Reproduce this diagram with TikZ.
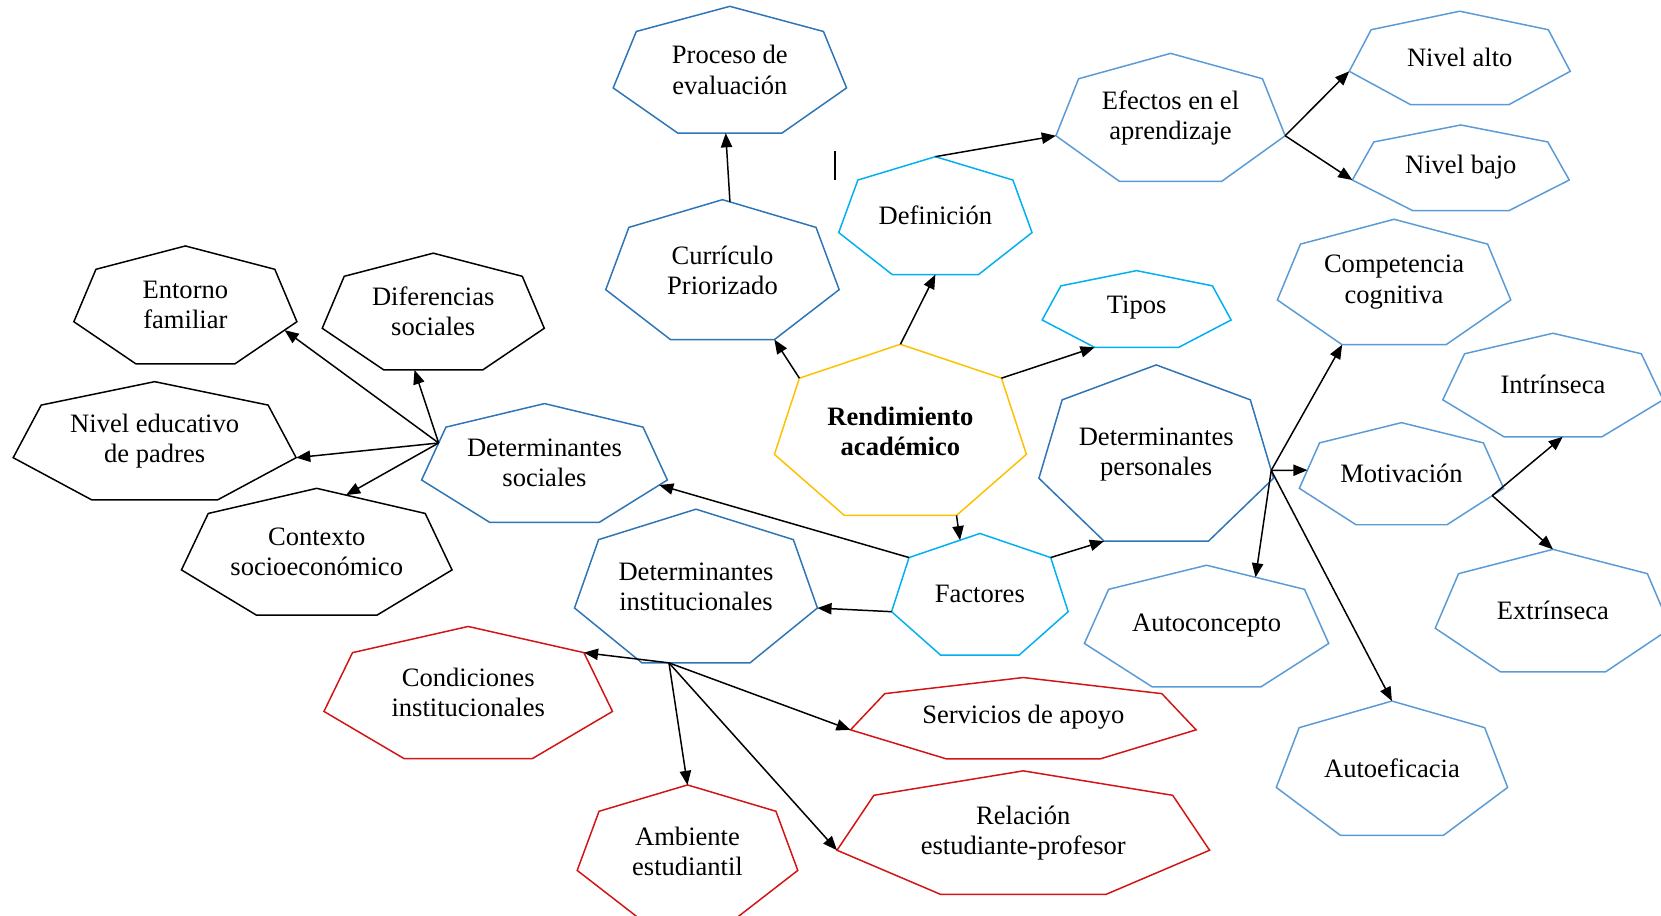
\documentclass[tikz,border=0pt]{standalone}
\usepackage{fontspec}
\setmainfont{Liberation Serif}
\usepackage{tikz}
\usetikzlibrary{arrows.meta, calc}

\definecolor{deepblue}{RGB}{46,117,182}
\definecolor{skyblue}{RGB}{0,176,240}
\definecolor{paleblue}{RGB}{91,155,213}
\definecolor{gold}{RGB}{255,192,0}
\definecolor{redline}{RGB}{210,20,20}

\tikzset{
  lbl/.style={align=center, inner sep=0pt, font=\fontsize{10.7}{12.1}\selectfont},
  arr/.style={-{Triangle[length=0.2cm,width=0.16cm]}, line width=0.6pt},
}

% heptagon: name, centre, x-radius, y-radius, colour, text
\newcommand{\hepta}[6]{%
  \node[lbl] (#1) at ($(#2)+(0,-3)$) {#6};
  \foreach \vx in {1,...,7}
    \coordinate (#1-\vx) at ($(#2)+({#3*cos(90+(\vx-1)*360/7)},{-#4*sin(90+(\vx-1)*360/7)})$);
  \draw[#5, line width=0.6pt] (#1-1) -- (#1-2) -- (#1-3) -- (#1-4) -- (#1-5) -- (#1-6) -- (#1-7) -- cycle;
}

\begin{document}
\begin{tikzpicture}[x=0.015cm, y=-0.015cm]
    \useasboundingbox (0,0) rectangle (1568,864);
    % Centre
    \hepta{rend}{850,410}{122}{85}{gold}{\textbf{Rendimiento}\\\textbf{académico}}
    % Upper branch
    \hepta{proc}{689,69}{113}{63}{deepblue}{Proceso de\\evaluación}
    \hepta{curr}{682,258}{113}{69.5}{deepblue}{Currículo\\Priorizado}
    \hepta{def}{883,206.5}{93.6}{58.6}{skyblue}{Definición}
    \hepta{efec}{1105,114}{111}{63.6}{paleblue}{Efectos en el\\aprendizaje}
    \hepta{nalt}{1378,57}{107}{46.4}{paleblue}{Nivel alto}
    \hepta{nbaj}{1379,160.5}{105}{42.5}{paleblue}{Nivel bajo}
    \hepta{tips}{1073,293.6}{91.5}{38.1}{skyblue}{Tipos}
    % Factors
    \hepta{fac}{925,564}{85.5}{60.4}{skyblue}{Factores}
    \hepta{dper}{1091.5,432}{113.6}{87.5}{deepblue}{Determinantes\\personales}
    \hepta{dsoc}{514,440}{119}{59}{deepblue}{Determinantes\\sociales}
    \hepta{dinst}{657,557}{117.6}{76.3}{deepblue}{Determinantes\\institucionales}
    % Personal
    \hepta{comp}{1316,269.3}{113}{62.3}{paleblue}{Competencia\\cognitiva}
    \hepta{mot}{1323,449.7}{98.9}{50.7}{paleblue}{Motivación}
    \hepta{intr}{1466,366}{106.7}{51.4}{paleblue}{Intrínseca}
    \hepta{extr}{1466,579.5}{114}{60.9}{paleblue}{Extrínseca}
    \hepta{acon}{1139,594}{118.3}{60.4}{paleblue}{Autoconcepto}
    \hepta{aefi}{1314,728.5}{112}{66.7}{paleblue}{Autoeficacia}
    % Social
    \hepta{entf}{175,290.7}{108}{58.5}{black}{Entorno\\familiar}
    \hepta{difs}{409,297}{107.5}{58}{black}{Diferencias\\sociales}
    \hepta{nedu}{146,419}{137}{58.7}{black}{Nivel educativo\\de padres}
    \hepta{ctx}{299,524}{131}{63}{black}{Contexto\\socioeconómico}
    % Institutional
    \hepta{cond}{442,657}{139.7}{65.6}{redline}{Condiciones\\institucionales}
    \hepta{serv}{966,680}{167.3}{40.4}{redline}{Servicios de apoyo}
    \hepta{amb}{649,807}{106.8}{66}{redline}{Ambiente\\estudiantil}
    \hepta{rel}{966,789}{180.4}{61.3}{redline}{Relación\\estudiante-profesor}
    % Cursor mark
    \draw [line width=0.7pt] (788,143) -- (788,170);
    % Arrows from the centre
    \draw [arr] (rend-2) -- (curr-5);
    \draw [arr] (rend-1) -- ($(def-4)!.5!(def-5)$);
    \draw [arr] (rend-7) -- (tips-4);
    \draw [arr] (rend-5) -- ($(fac-1)!.28!(fac-2)$);
    % Upper arrows
    \draw [arr] ($(curr-1)!.08!(curr-7)$) -- ($(proc-4)!.46!(proc-5)$);
    \draw [arr] (def-1) -- (efec-3);
    \draw [arr] (efec-6) -- (nalt-3);
    \draw [arr] (efec-6) -- (nbaj-3);
    % Factor arrows
    \draw [arr] (fac-7) -- (dper-4);
    \draw [arr] (fac-2) -- ($(dsoc-6)!.12!(dsoc-5)$);
    \draw [arr] (fac-3) -- (dinst-6);
    % Social determinants
    \coordinate (dsoc-hub) at ($(dsoc-2)!.3!(dsoc-3)$);
    \draw [arr] (dsoc-hub) -- ($(entf-6)!.2!(entf-5)$);
    \draw [arr] (dsoc-hub) -- ($(difs-4)!.31!(difs-5)$);
    \draw [arr] (dsoc-hub) -- (nedu-6);
    \draw [arr] (dsoc-hub) -- ($(ctx-1)!.27!(ctx-7)$);
    % Institutional determinants
    \coordinate (dinst-hub) at ($(dinst-4)!.25!(dinst-5)$);
    \draw [arr] (dinst-hub) -- (cond-7);
    \draw [arr] (dinst-hub) -- (amb-1);
    \draw [arr] (dinst-hub) -- (serv-3);
    \draw [arr] (dinst-hub) -- (rel-3);
    % Personal determinants
    \coordinate (dper-hub) at ($(dper-6)!.1!(dper-7)$);
    \draw [arr] (dper-hub) -- (comp-4);
    \draw [arr] (dper-hub) -- ($(mot-2)!.6!(mot-3)$);
    \draw [arr] (dper-hub) -- ($(acon-1)!.5!(acon-7)$);
    \draw [arr] (dper-hub) -- (aefi-1);
    % Motivation
    \coordinate (mot-hub) at ($(mot-6)!.2!(mot-5)$);
    \draw [arr] (mot-hub) -- ($(intr-4)!.6!(intr-5)$);
    \draw [arr] (mot-hub) -- (extr-1);
\end{tikzpicture}
\end{document}
